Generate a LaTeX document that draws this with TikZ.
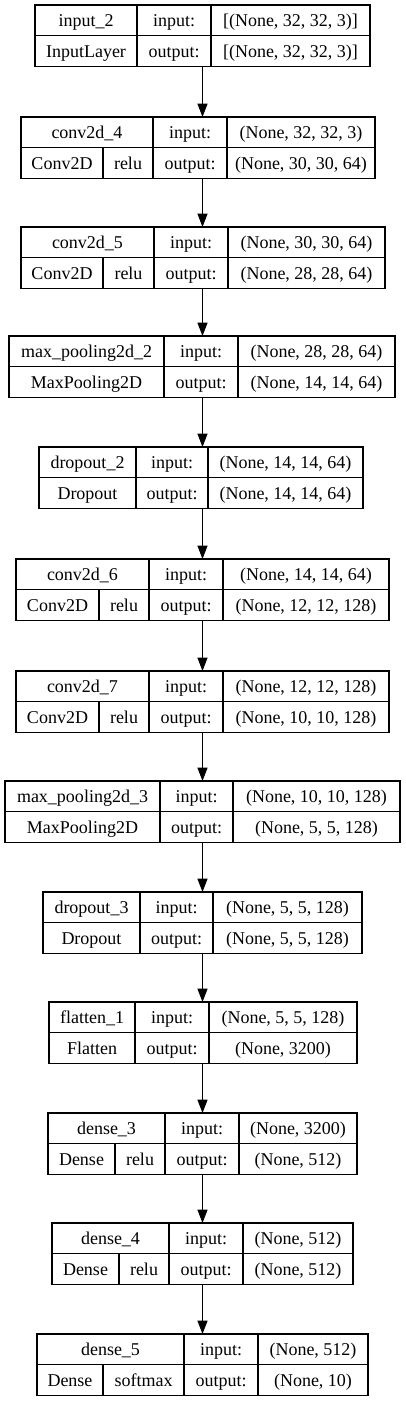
\documentclass[tikz,border=0pt]{standalone}
\usepackage{fontspec}
\setmainfont{Liberation Serif}
\usetikzlibrary{arrows.meta}
\tikzset{
  cellbox/.style={draw=black, line width=0.8pt, inner sep=0pt,
    font=\fontsize{13.5}{16}\selectfont, text height=9.6pt, text depth=0pt},
  arr/.style={draw=black, line width=0.8pt, -{Triangle[length=10pt,width=7.5pt]}}
}
\newcommand\cell[6]{%
  \node[cellbox, minimum width=(#4-#2)*0.75pt, minimum height=(#5-#3)*0.75pt]
    (#1) at ({(#2+#4)/2},{(#3+#5)/2}) {#6};}
\newcommand\layer[9]{%
  \pgfmathsetmacro\ym{#2+30.75}\pgfmathsetmacro\yb{#2+61.5}%
  \cell{#1-name}{#3}{#2}{#4}{\ym}{#7}
  \cell{#1-inl}{#4}{#2}{#5}{\ym}{input:}
  \cell{#1-in}{#5}{#2}{#6}{\ym}{#8}
  \cell{#1-outl}{#4}{\ym}{#5}{\yb}{output:}
  \cell{#1-out}{#5}{\ym}{#6}{\yb}{#9}
  \coordinate (#1-top) at (202.5,#2);
  \coordinate (#1-bot) at (202.5,\yb);
}
\newcommand\clsone[5]{%
  \pgfmathsetmacro\ym{#2+30.75}\pgfmathsetmacro\yb{#2+61.5}%
  \cell{#1-cls}{#3}{\ym}{#4}{\yb}{#5}}
\newcommand\clstwo[7]{%
  \pgfmathsetmacro\ym{#2+30.75}\pgfmathsetmacro\yb{#2+61.5}%
  \cell{#1-cls}{#3}{\ym}{#4}{\yb}{#6}
  \cell{#1-act}{#4}{\ym}{#5}{\yb}{#7}}
\begin{document}
\begin{tikzpicture}[x=0.75pt,y=-0.75pt]
\fill[white] (0,0) rectangle (405,1401);
\useasboundingbox (0,0) rectangle (405,1401);

\layer{L1}{5}{35}{137}{211}{370}{input\_2}{[(None, 32, 32, 3)]}{[(None, 32, 32, 3)]}
\clsone{L1}{5}{35}{137}{InputLayer}

\layer{L2}{117}{21}{153}{227}{375}{conv2d\_4}{(None, 32, 32, 3)}{(None, 30, 30, 64)}
\clstwo{L2}{117}{21}{103}{153}{Conv2D}{relu}

\layer{L3}{227}{21}{154}{228}{385}{conv2d\_5}{(None, 30, 30, 64)}{(None, 28, 28, 64)}
\clstwo{L3}{227}{21}{103}{154}{Conv2D}{relu}

\layer{L4}{336}{9}{164}{238}{395}{max\_pooling2d\_2}{(None, 28, 28, 64)}{(None, 14, 14, 64)}
\clsone{L4}{336}{9}{164}{MaxPooling2D}

\layer{L5}{447}{39}{136}{208}{363}{dropout\_2}{(None, 14, 14, 64)}{(None, 14, 14, 64)}
\clsone{L5}{447}{39}{136}{Dropout}

\layer{L6}{559}{16}{149}{223}{389}{conv2d\_6}{(None, 14, 14, 64)}{(None, 12, 12, 128)}
\clstwo{L6}{559}{16}{99}{149}{Conv2D}{relu}

\layer{L7}{671}{16}{149}{223}{389}{conv2d\_7}{(None, 12, 12, 128)}{(None, 10, 10, 128)}
\clstwo{L7}{671}{16}{99}{149}{Conv2D}{relu}

\layer{L8}{781}{5}{160}{233}{400}{max\_pooling2d\_3}{(None, 10, 10, 128)}{(None, 5, 5, 128)}
\clsone{L8}{781}{5}{160}{MaxPooling2D}

\layer{L9}{892}{43}{140}{213}{362}{dropout\_3}{(None, 5, 5, 128)}{(None, 5, 5, 128)}
\clsone{L9}{892}{43}{140}{Dropout}

\layer{L10}{1002}{49}{135}{209}{357}{flatten\_1}{(None, 5, 5, 128)}{(None, 3200)}
\clsone{L10}{1002}{49}{135}{Flatten}

\layer{L11}{1113}{48}{165}{239}{357}{dense\_3}{(None, 3200)}{(None, 512)}
\clstwo{L11}{1113}{48}{115}{165}{Dense}{relu}

\layer{L12}{1223}{52}{169}{243}{353}{dense\_4}{(None, 512)}{(None, 512)}
\clstwo{L12}{1223}{52}{119}{169}{Dense}{relu}

\layer{L13}{1334}{37}{184}{258}{368}{dense\_5}{(None, 512)}{(None, 10)}
\clstwo{L13}{1334}{37}{103}{184}{Dense}{softmax}

\foreach \a/\b in {L1/L2,L2/L3,L3/L4,L4/L5,L5/L6,L6/L7,L7/L8,L8/L9,L9/L10,L10/L11,L11/L12,L12/L13}
  \draw[arr] (\a-bot) -- (\b-top);
\end{tikzpicture}
\end{document}
